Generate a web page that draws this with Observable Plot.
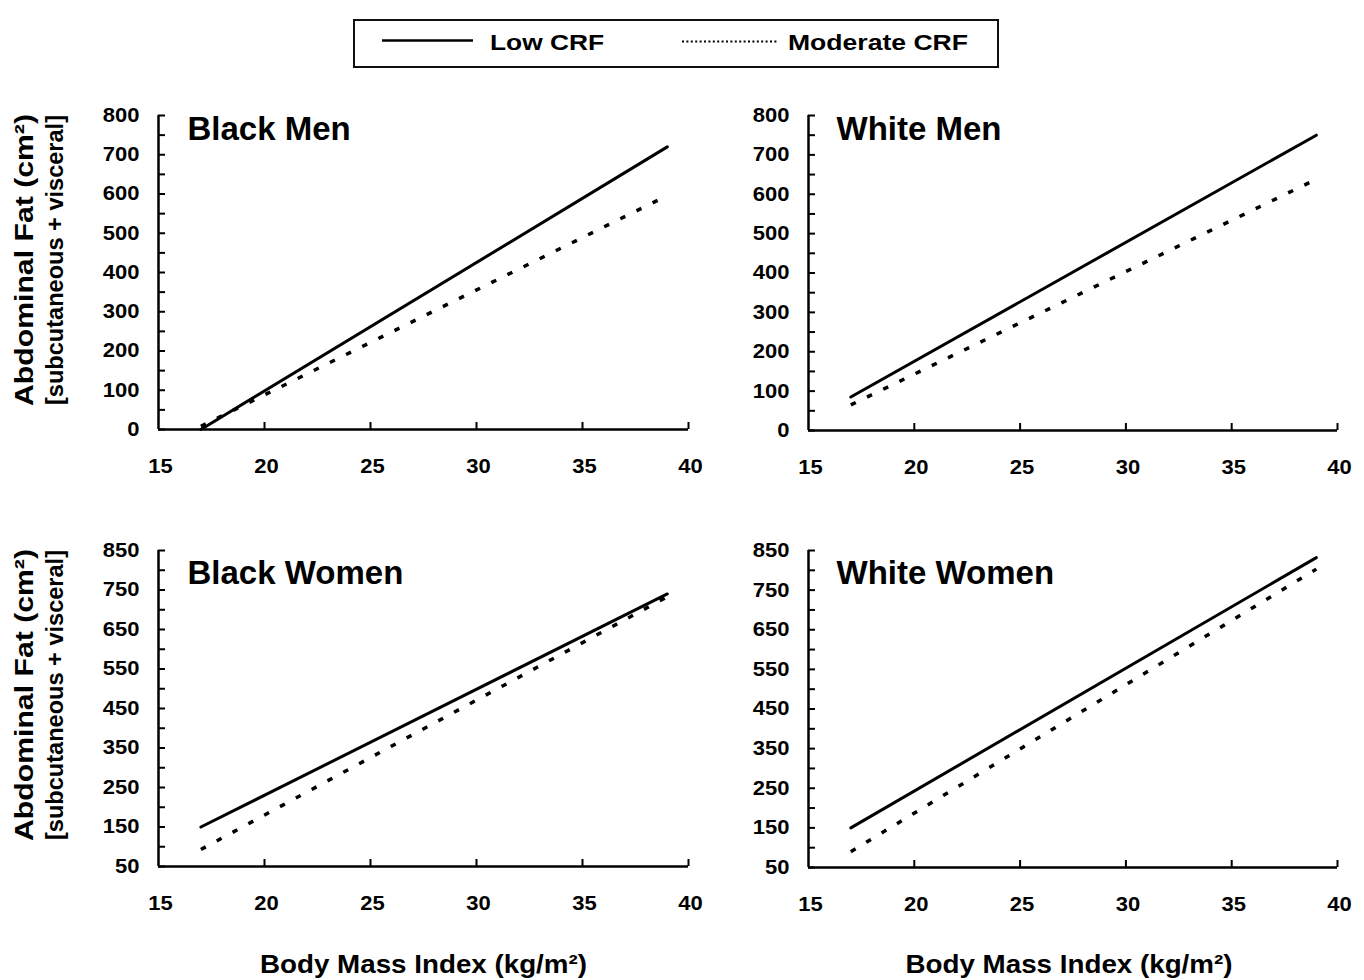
<!DOCTYPE html>
<html><head><meta charset="utf-8">
<script src="https://cdn.jsdelivr.net/npm/d3@7"></script>
<script src="https://cdn.jsdelivr.net/npm/@observablehq/plot@0.6"></script>
<style>
body{margin:0;background:#fff;}
#root{position:relative;width:1364px;height:980px;overflow:hidden;font-family:"Liberation Sans",Arial,sans-serif;background:#fff;}
.panel{position:absolute;}
#overlay{position:absolute;left:0;top:0;pointer-events:none;}
</style></head><body><div id="root"></div>
<script>
// ---- data ----
const bmi = [17, 39];
const blackMenLow = [0, 720];
const blackMenMod = [8, 596];
const whiteMenLow = [85, 750];
const whiteMenMod = [65, 638];
const blackWomenLow = [150, 740];
const blackWomenMod = [93, 733];
const whiteWomenLow = [150, 832];
const whiteWomenMod = [90, 803];
const seriesNames = ["Low CRF", "Moderate CRF"];
const panelTitles = ["Black Men", "White Men", "Black Women", "White Women"];
const menTicks = d3.range(0, 801, 100);
const menMinorTicks = d3.range(0, 801, 50);
const womenTicks = d3.range(50, 851, 100);
const womenMinorTicks = d3.range(50, 851, 50);
const xTicks = [15, 20, 25, 30, 35, 40];
const xInnerTicks = [20, 25, 30, 35, 40];
const xLabel = "Body Mass Index (kg/m²)";
const yLabel1 = "Abdominal Fat (cm²)";
const yLabel2 = "[subcutaneous + visceral]";

const panels = [
  {title: panelTitles[0], low: blackMenLow, mod: blackMenMod, domain: [0, 800], ticks: menTicks, minor: menMinorTicks},
  {title: panelTitles[1], low: whiteMenLow, mod: whiteMenMod, domain: [0, 800], ticks: menTicks, minor: menMinorTicks},
  {title: panelTitles[2], low: blackWomenLow, mod: blackWomenMod, domain: [50, 850], ticks: womenTicks, minor: womenMinorTicks},
  {title: panelTitles[3], low: whiteWomenLow, mod: whiteWomenMod, domain: [50, 850], ticks: womenTicks, minor: womenMinorTicks}
];

// ---- layout ----
const layout = [
  {left: 78, top: 95, innerW: 530, innerH: 314, mr: 40, tdx: 29, tdy: 1},
  {left: 728, top: 95, innerW: 529, innerH: 315, mr: 20, tdx: 28, tdy: 1},
  {left: 78, top: 530, innerW: 530, innerH: 316, mr: 40, tdx: 29, tdy: 10},
  {left: 728, top: 530, innerW: 529, innerH: 317, mr: 20, tdx: 28, tdy: 10}
];
const ML = 80, MT = 20, MB = 60;
const root = document.getElementById("root");

function stretch(svg, sel, k) {
  svg.querySelectorAll(sel).forEach(t => {
    const L = t.getComputedTextLength();
    if (L > 0) { t.setAttribute("textLength", L * k); t.setAttribute("lengthAdjust", "spacingAndGlyphs"); }
  });
}

panels.forEach((p, i) => {
  const L = layout[i];
  const lowData = bmi.map((b, j) => ({bmi: b, fat: p.low[j], crf: seriesNames[0]}));
  const modData = bmi.map((b, j) => ({bmi: b, fat: p.mod[j], crf: seriesNames[1]}));
  const chart = Plot.plot({
    width: ML + L.innerW + L.mr,
    height: MT + L.innerH + MB,
    marginLeft: ML, marginRight: L.mr, marginTop: MT, marginBottom: MB,
    x: {domain: [15, 40], label: null},
    y: {domain: p.domain, label: null},
    style: {fontFamily: '"Liberation Sans", Arial, sans-serif', fontWeight: "bold", fontSize: "20px", color: "#000", background: "transparent", overflow: "visible"},
    marks: [
      Plot.axisY({ticks: p.minor, tickSize: -7, tickFormat: () => "", strokeWidth: 2, label: null}),
      Plot.axisY({ticks: p.ticks, tickSize: 0, tickPadding: 19, fontSize: 20, fontWeight: "bold", label: null}),
      Plot.axisX({ticks: xInnerTicks, tickSize: -7, tickFormat: () => "", strokeWidth: 2, label: null}),
      Plot.axisX({ticks: xTicks, tickSize: 0, tickPadding: 29, dx: 2, fontSize: 20, fontWeight: "bold", label: null}),
      Plot.ruleX([15], {strokeWidth: 2.5}),
      Plot.ruleY([p.domain[0]], {strokeWidth: 2.5}),
      Plot.line(lowData, {x: "bmi", y: "fat", stroke: "#000", strokeWidth: 3}),
      Plot.line(modData, {x: "bmi", y: "fat", stroke: "#000", strokeWidth: 3.5, strokeDasharray: "5.5,12.5", strokeLinecap: "butt"}),
      Plot.text([p.title], {frameAnchor: "top-left", lineAnchor: "top", textAnchor: "start", dx: L.tdx, dy: L.tdy, fontSize: 33, fontWeight: "bold", fill: "#000"})
    ]
  });
  chart.classList.add("panel");
  chart.style.left = L.left + "px";
  chart.style.top = L.top + "px";
  root.appendChild(chart);
  stretch(chart, 'g[aria-label="y-axis tick label"] text, g[aria-label="x-axis tick label"] text', 1.1);
});

// ---- overlay: legend and axis titles ----
const ov = d3.select(root).append("svg").attr("id", "overlay").attr("width", 1364).attr("height", 980)
  .attr("font-family", '"Liberation Sans", Arial, sans-serif').attr("font-weight", "bold");

const lg = ov.append("g").attr("aria-label", "legend");
lg.append("rect").attr("x", 354).attr("y", 20).attr("width", 644).attr("height", 47)
  .attr("fill", "#fff").attr("stroke", "#111").attr("stroke-width", 2);
lg.append("line").attr("x1", 382).attr("x2", 473).attr("y1", 40.5).attr("y2", 40.5).attr("stroke", "#000").attr("stroke-width", 2.5);
lg.append("text").attr("x", 490).attr("y", 50).attr("font-size", 22).attr("textLength", 114).attr("lengthAdjust", "spacingAndGlyphs").text(seriesNames[0]);
lg.append("line").attr("x1", 682).attr("x2", 778).attr("y1", 41.5).attr("y2", 41.5).attr("stroke", "#000").attr("stroke-width", 2).attr("stroke-dasharray", "2,2.4");
lg.append("text").attr("x", 788).attr("y", 50).attr("font-size", 22).attr("textLength", 180).attr("lengthAdjust", "spacingAndGlyphs").text(seriesNames[1]);

[[423.5, 973], [1069, 973]].forEach(([cx, by]) => {
  ov.append("text").attr("x", cx).attr("y", by).attr("text-anchor", "middle").attr("font-size", 25)
    .attr("textLength", 327).attr("lengthAdjust", "spacingAndGlyphs").text(xLabel);
});
[260, 695].forEach(cy => {
  ov.append("text").attr("transform", `translate(33,${cy}) rotate(-90)`).attr("text-anchor", "middle").attr("font-size", 25)
    .attr("textLength", 292).attr("lengthAdjust", "spacingAndGlyphs").text(yLabel1);
  ov.append("text").attr("transform", `translate(63,${cy}) rotate(-90)`).attr("text-anchor", "middle").attr("font-size", 23.5)
    .attr("textLength", 290).attr("lengthAdjust", "spacingAndGlyphs").text(yLabel2);
});
</script></body></html>
